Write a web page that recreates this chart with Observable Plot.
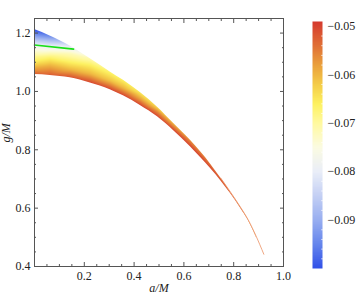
<!DOCTYPE html>
<html><head><meta charset="utf-8">
<script src="https://cdn.jsdelivr.net/npm/d3@7"></script>
<script src="https://cdn.jsdelivr.net/npm/@observablehq/plot@0.6"></script>
<style>
body{margin:0;background:#fff;}
#wrap{position:relative;width:361px;height:299px;overflow:hidden;}
#wrap svg{position:absolute;top:0;}
</style></head><body><div id="wrap"></div>
<script>
// band boundaries (a/M, g/M)
const aBound = [0, 0.0625, 0.143, 0.224, 0.304, 0.357, 0.425, 0.494, 0.558, 0.627, 0.667, 0.708, 0.748, 0.788, 0.829, 0.857, 0.889, 0.921];
const gUpper = [1.212, 1.190, 1.156, 1.112, 1.067, 1.038, 0.996, 0.946, 0.891, 0.832, 0.793, 0.750, 0.703, 0.654, 0.601, 0.562, 0.506, 0.442];
const gLower = [1.058, 1.055, 1.047, 1.029, 1.006, 0.985, 0.952, 0.913, 0.866, 0.810, 0.774, 0.735, 0.694, 0.649, 0.598, 0.560, 0.504, 0.440];
const fUpper = [-0.100, -0.094, -0.081, -0.071, -0.067, -0.066, -0.065, -0.063, -0.060, -0.057, -0.056, -0.055, -0.054, -0.054, -0.055, -0.056, -0.057, -0.058];
const fLower = [-0.052, -0.052, -0.051, -0.050, -0.050, -0.050, -0.050, -0.050, -0.050, -0.050, -0.050, -0.050, -0.051, -0.052, -0.053, -0.055, -0.056, -0.057];
// interior colour samples
const interiorA = [0, 0, 0, 0, 0, 0.0625, 0.0625, 0.0625, 0.143, 0.143, 0.143, 0.224, 0.224, 0.304, 0.357, 0.425, 0.494];
const interiorG = [1.077, 1.105, 1.12, 1.155, 1.18, 1.09, 1.12, 1.15, 1.075, 1.10, 1.13, 1.06, 1.09, 1.037, 1.012, 0.974, 0.930];
const interiorF = [-0.058, -0.066, -0.069, -0.078, -0.088, -0.060, -0.068, -0.078, -0.060, -0.066, -0.072, -0.060, -0.066, -0.061, -0.060, -0.058, -0.056];
// green curve
const greenA = [0, 0.157];
const greenG = [1.159, 1.145];
// ticks
const xTicks = [0.2, 0.4, 0.6, 0.8, 1.0];
const xMinor = [0.05, 0.1, 0.15, 0.25, 0.3, 0.35, 0.45, 0.5, 0.55, 0.65, 0.7, 0.75, 0.85, 0.9, 0.95];
const yTicks = [0.4, 0.6, 0.8, 1.0, 1.2];
const yMinor = [0.45, 0.5, 0.55, 0.65, 0.7, 0.75, 0.85, 0.9, 0.95, 1.05, 1.1, 1.15];
const cbTicks = [-0.05, -0.06, -0.07, -0.08, -0.09];
const cbMinor = [-0.052, -0.054, -0.056, -0.058, -0.062, -0.064, -0.066, -0.068, -0.072, -0.074, -0.076, -0.078, -0.082, -0.084, -0.086, -0.088, -0.092, -0.094, -0.096, -0.098];
// colour map (TemperatureMap-like)
const colorStops = [-0.1, -0.095, -0.09, -0.085, -0.08, -0.075, -0.07, -0.066, -0.062, -0.058, -0.054, -0.049];
const colorHex = ["#3050e8", "#6585ec", "#98aef0", "#c4d0f4", "#eaeef8", "#fbfbe2", "#fff9a0", "#fdf160", "#f4cc48", "#eaa03c", "#e07036", "#d5392e"];

const xDomain = [0, 1], yDomain = [0.4, 1.25];
const bound = aBound.map((a, i) => ({a, upper: gUpper[i], lower: gLower[i]}));
const samples = [
  ...aBound.map((a, i) => ({a, g: gUpper[i], f: fUpper[i]})),
  ...aBound.map((a, i) => ({a, g: gLower[i], f: fLower[i]})),
  ...interiorA.map((a, i) => ({a, g: interiorG[i], f: interiorF[i]}))
];
const green = greenA.map((a, i) => ({a, g: greenG[i]}));
const tail = bound.filter(d => d.a >= 0.74);
const colorOpts = {type: "linear", domain: colorStops, range: colorHex, interpolate: "rgb", clamp: true};
const ink = "#555";

const main = Plot.plot({
  width: 300, height: 299,
  marginLeft: 34, marginRight: 17, marginTop: 18, marginBottom: 33,
  style: {fontFamily: "Liberation Serif", fontSize: "12px", background: "transparent", color: "#222"},
  x: {domain: xDomain},
  y: {domain: yDomain},
  color: colorOpts,
  marks: [
    Plot.raster(samples, {x: "a", y: "g", fill: "f", interpolate: "barycentric", x1: xDomain[0], x2: aBound[aBound.length - 2], y1: yDomain[0], y2: yDomain[1]}),
    Plot.areaY(bound, {x: "a", y1: "upper", y2: yDomain[1], fill: "white", curve: "monotone-x"}),
    Plot.areaY(bound, {x: "a", y1: yDomain[0], y2: "lower", fill: "white", curve: "monotone-x"}),
    Plot.line(tail, {x: "a", y: "upper", stroke: "#ea8a5a", strokeWidth: 1, strokeOpacity: 0.75, curve: "monotone-x"}),
    Plot.line(green, {x: "a", y: "g", stroke: "#18e018", strokeWidth: 1.6}),
    Plot.frame({stroke: ink}),
    Plot.axisX(xTicks, {anchor: "bottom", tickSize: 0, tickPadding: 5, tickFormat: d => d.toFixed(1), label: null}),
    Plot.axisX(xTicks, {anchor: "bottom", tickSize: -4, tickFormat: () => "", label: null, stroke: ink}),
    Plot.axisX(xMinor, {anchor: "bottom", tickSize: -2, tickFormat: () => "", label: null, stroke: ink}),
    Plot.axisX(xTicks, {anchor: "top", tickSize: -4, tickFormat: () => "", label: null, stroke: ink}),
    Plot.axisX(xMinor, {anchor: "top", tickSize: -2, tickFormat: () => "", label: null, stroke: ink}),
    Plot.axisY(yTicks, {anchor: "left", tickSize: 0, tickPadding: 4, tickFormat: d => d.toFixed(1), label: null}),
    Plot.axisY(yTicks, {anchor: "left", tickSize: -4, tickFormat: () => "", label: null, stroke: ink}),
    Plot.axisY(yMinor, {anchor: "left", tickSize: -2, tickFormat: () => "", label: null, stroke: ink}),
    Plot.axisY(yTicks, {anchor: "right", tickSize: -4, tickFormat: () => "", label: null, stroke: ink}),
    Plot.axisY(yMinor, {anchor: "right", tickSize: -2, tickFormat: () => "", label: null, stroke: ink}),
    Plot.text(["a/M"], {text: d => d, frameAnchor: "bottom", dy: 25, fontStyle: "italic"}),
    Plot.text(["g/M"], {text: d => d, frameAnchor: "left", dx: -28, rotate: -90, fontStyle: "italic"})
  ]
});
main.style.left = "0px";

const bar = Plot.plot({
  width: 71, height: 299,
  marginLeft: 22, marginRight: 39, marginTop: 21, marginBottom: 31,
  style: {fontFamily: "Liberation Serif", fontSize: "12px", background: "transparent", color: "#222"},
  x: {domain: [0, 1], axis: null},
  y: {domain: [-0.1, -0.049]},
  color: colorOpts,
  marks: [
    Plot.raster({fill: (x, y) => y, x1: 0, x2: 1, y1: -0.1, y2: -0.049, width: 1, height: 300}),
    Plot.axisY(cbTicks, {anchor: "right", tickSize: 0, tickPadding: 5, tickFormat: d => "\u2212" + Math.abs(d).toFixed(2), label: null}),
    Plot.axisY(cbMinor, {anchor: "right", tickSize: -2, tickFormat: () => "", label: null, stroke: "#fff", strokeOpacity: 0.6})
  ]
});
bar.style.left = "290px";

document.getElementById("wrap").append(main, bar);
</script></body></html>
